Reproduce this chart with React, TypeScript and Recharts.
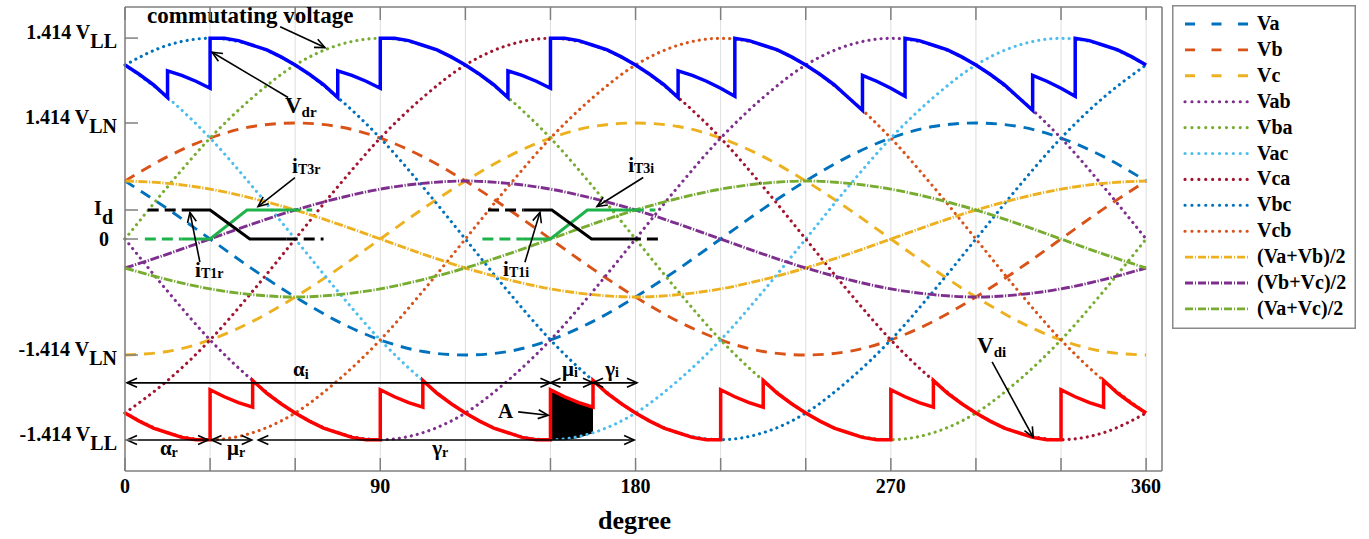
import React from "react";
import {
  Area,
  CartesianGrid,
  ComposedChart,
  Legend,
  Line,
  ReferenceDot,
  ReferenceLine,
  XAxis,
  YAxis,
} from "recharts";

const SERIF = "'Liberation Serif', 'Times New Roman', Times, serif";
const AXIS = "#7f7f7f";

// phase and line voltages, read every 15 degrees (1 = 1.414 VLN)
const deg = [0, 15, 30, 45, 60, 75, 90, 105, 120, 135, 150, 165, 180, 195, 210, 225, 240, 255, 270, 285, 300, 315, 330, 345, 360];
const va = [0.5, 0.26, 0, -0.26, -0.5, -0.71, -0.87, -0.97, -1, -0.97, -0.87, -0.71, -0.5, -0.26, 0, 0.26, 0.5, 0.71, 0.87, 0.97, 1, 0.97, 0.87, 0.71, 0.5];
const vb = [0.5, 0.71, 0.87, 0.97, 1, 0.97, 0.87, 0.71, 0.5, 0.26, 0, -0.26, -0.5, -0.71, -0.87, -0.97, -1, -0.97, -0.87, -0.71, -0.5, -0.26, 0, 0.26, 0.5];
const vc = [-1, -0.97, -0.87, -0.71, -0.5, -0.26, 0, 0.26, 0.5, 0.71, 0.87, 0.97, 1, 0.97, 0.87, 0.71, 0.5, 0.26, 0, -0.26, -0.5, -0.71, -0.87, -0.97, -1];
const vab = [0, -0.45, -0.87, -1.22, -1.5, -1.67, -1.73, -1.67, -1.5, -1.22, -0.87, -0.45, 0, 0.45, 0.87, 1.22, 1.5, 1.67, 1.73, 1.67, 1.5, 1.22, 0.87, 0.45, 0];
const vba = [0, 0.45, 0.87, 1.22, 1.5, 1.67, 1.73, 1.67, 1.5, 1.22, 0.87, 0.45, 0, -0.45, -0.87, -1.22, -1.5, -1.67, -1.73, -1.67, -1.5, -1.22, -0.87, -0.45, 0];
const vac = [1.5, 1.22, 0.87, 0.45, 0, -0.45, -0.87, -1.22, -1.5, -1.67, -1.73, -1.67, -1.5, -1.22, -0.87, -0.45, 0, 0.45, 0.87, 1.22, 1.5, 1.67, 1.73, 1.67, 1.5];
const vca = [-1.5, -1.22, -0.87, -0.45, 0, 0.45, 0.87, 1.22, 1.5, 1.67, 1.73, 1.67, 1.5, 1.22, 0.87, 0.45, 0, -0.45, -0.87, -1.22, -1.5, -1.67, -1.73, -1.67, -1.5];
const vbc = [1.5, 1.67, 1.73, 1.67, 1.5, 1.22, 0.87, 0.45, 0, -0.45, -0.87, -1.22, -1.5, -1.67, -1.73, -1.67, -1.5, -1.22, -0.87, -0.45, 0, 0.45, 0.87, 1.22, 1.5];
const vcb = [-1.5, -1.67, -1.73, -1.67, -1.5, -1.22, -0.87, -0.45, 0, 0.45, 0.87, 1.22, 1.5, 1.67, 1.73, 1.67, 1.5, 1.22, 0.87, 0.45, 0, -0.45, -0.87, -1.22, -1.5];
const vaPlusVb = [0.5, 0.48, 0.43, 0.35, 0.25, 0.13, 0, -0.13, -0.25, -0.35, -0.43, -0.48, -0.5, -0.48, -0.43, -0.35, -0.25, -0.13, 0, 0.13, 0.25, 0.35, 0.43, 0.48, 0.5];
const vbPlusVc = [-0.25, -0.13, 0, 0.13, 0.25, 0.35, 0.43, 0.48, 0.5, 0.48, 0.43, 0.35, 0.25, 0.13, 0, -0.13, -0.25, -0.35, -0.43, -0.48, -0.5, -0.48, -0.43, -0.35, -0.25];
const vaPlusVc = [-0.25, -0.35, -0.43, -0.48, -0.5, -0.48, -0.43, -0.35, -0.25, -0.13, 0, 0.13, 0.25, 0.35, 0.43, 0.48, 0.5, 0.48, 0.43, 0.35, 0.25, 0.13, 0, -0.13, -0.25];

// rectifier / inverter dc voltages, [degree, value] every 5 degrees with the jumps
const vdr = [
  [0, 1.5], [5, 1.42], [10, 1.33], [15, 1.22], [15, 1.45], [20, 1.41], [25, 1.36], [30, 1.3],
  [30, 1.73], [35, 1.73], [40, 1.71], [45, 1.67], [50, 1.63], [55, 1.57], [60, 1.5], [65, 1.42], [70, 1.33], [75, 1.22],
  [75, 1.45], [80, 1.41], [85, 1.36], [90, 1.3],
  [90, 1.73], [95, 1.73], [100, 1.71], [105, 1.67], [110, 1.63], [115, 1.57], [120, 1.5], [125, 1.42], [130, 1.33], [135, 1.22],
  [135, 1.45], [140, 1.41], [145, 1.36], [150, 1.3],
  [150, 1.73], [155, 1.73], [160, 1.71], [165, 1.67], [170, 1.63], [175, 1.57], [180, 1.5], [185, 1.42], [190, 1.33], [195, 1.22],
  [195, 1.45], [200, 1.41], [205, 1.36], [210, 1.3], [215, 1.23],
  [215, 1.73], [220, 1.71], [225, 1.67], [230, 1.63], [235, 1.57], [240, 1.5], [245, 1.42], [250, 1.33], [255, 1.22], [260, 1.11],
  [260, 1.41], [265, 1.36], [270, 1.3], [275, 1.23],
  [275, 1.73], [280, 1.71], [285, 1.67], [290, 1.63], [295, 1.57], [300, 1.5], [305, 1.42], [310, 1.33], [315, 1.22], [320, 1.11],
  [320, 1.41], [325, 1.36], [330, 1.3], [335, 1.23],
  [335, 1.73], [340, 1.71], [345, 1.67], [350, 1.63], [355, 1.57], [360, 1.5],
];
const vdi = [
  [0, -1.5], [5, -1.57], [10, -1.63], [15, -1.67], [20, -1.71], [25, -1.73], [30, -1.73],
  [30, -1.3], [35, -1.36], [40, -1.41], [45, -1.45],
  [45, -1.22], [50, -1.33], [55, -1.42], [60, -1.5], [65, -1.57], [70, -1.63], [75, -1.67], [80, -1.71], [85, -1.73], [90, -1.73],
  [90, -1.3], [95, -1.36], [100, -1.41], [105, -1.45],
  [105, -1.22], [110, -1.33], [115, -1.42], [120, -1.5], [125, -1.57], [130, -1.63], [135, -1.67], [140, -1.71], [145, -1.73], [150, -1.73],
  [150, -1.3], [155, -1.36], [160, -1.41], [165, -1.45],
  [165, -1.22], [170, -1.33], [175, -1.42], [180, -1.5], [185, -1.57], [190, -1.63], [195, -1.67], [200, -1.71], [205, -1.73], [210, -1.73],
  [210, -1.3], [215, -1.36], [220, -1.41], [225, -1.45],
  [225, -1.22], [230, -1.33], [235, -1.42], [240, -1.5], [245, -1.57], [250, -1.63], [255, -1.67], [260, -1.71], [265, -1.73], [270, -1.73],
  [270, -1.3], [275, -1.36], [280, -1.41], [285, -1.45],
  [285, -1.22], [290, -1.33], [295, -1.42], [300, -1.5], [305, -1.57], [310, -1.63], [315, -1.67], [320, -1.71], [325, -1.73], [330, -1.73],
  [330, -1.3], [335, -1.36], [340, -1.41], [345, -1.45],
  [345, -1.22], [350, -1.33], [355, -1.42], [360, -1.5],
];

// shaded area A (inverter commutation)
const areaDeg = [150, 155, 160, 165];
const areaLow = [-1.73, -1.73, -1.71, -1.67];
const areaHigh = [-1.3, -1.36, -1.41, -1.45];

// thyristor currents (Id = 0.25)
const iT1rSolid = [[20, 0.25], [30, 0.25], [44, 0], [57, 0]];
const iT1rDash = [[8, 0.25], [20, 0.25], [38, null], [57, 0], [70, 0]];
const iT3rSolid = [[20, 0], [30, 0], [43, 0.25], [58, 0.25]];
const iT3rDash = [[7, 0], [20, 0], [38, null], [58, 0.25], [66, 0.25]];
const iT1iSolid = [[140.5, 0.25], [150.5, 0.25], [164.5, 0], [178, 0]];
const iT1iDash = [[128, 0.25], [140.5, 0.25], [160, null], [178, 0], [189, 0]];
const iT3iSolid = [[140, 0], [150, 0], [163, 0.25], [179, 0.25]];
const iT3iDash = [[126, 0], [140, 0], [160, null], [179, 0.25], [187, 0.25]];

const xTicks = [0, 30, 60, 90, 120, 150, 180, 210, 240, 270, 300, 330, 360];
const yTicks = [1.732, 1, 0.25, 0, -1, -1.732];
const yTickMain = ["1.414 V", "1.414 V", "I", "0", "-1.414 V", "-1.414 V"];
const yTickSub = ["LL", "LN", "d", "", "LN", "LL"];

const DASHED = { dash: "11 8", legendDash: "10 16.5", cap: "butt", width: 2.9 };
const DOTTED = { dash: "0.1 6", legendDash: "0.1 6.8", cap: "round", width: 3.1 };
const DASHDOT = { dash: "9 1.6 1.2 1.6", legendDash: "8 2 1 2", cap: "butt", width: 2.9 };

const series = [
  { key: "Va", values: va, color: "#0072BD", style: DASHED },
  { key: "Vb", values: vb, color: "#D95319", style: DASHED },
  { key: "Vc", values: vc, color: "#EDB120", style: DASHED },
  { key: "Vab", values: vab, color: "#7E2F8E", style: DOTTED },
  { key: "Vba", values: vba, color: "#77AC30", style: DOTTED },
  { key: "Vac", values: vac, color: "#4DBEEE", style: DOTTED },
  { key: "Vca", values: vca, color: "#A2142F", style: DOTTED },
  { key: "Vbc", values: vbc, color: "#0072BD", style: DOTTED },
  { key: "Vcb", values: vcb, color: "#D95319", style: DOTTED },
  { key: "(Va+Vb)/2", values: vaPlusVb, color: "#EDB120", style: DASHDOT },
  { key: "(Vb+Vc)/2", values: vbPlusVc, color: "#7E2F8E", style: DASHDOT },
  { key: "(Va+Vc)/2", values: vaPlusVc, color: "#77AC30", style: DASHDOT },
];

const rows = deg.map((d, i) => {
  const r: Record<string, number> = { deg: d };
  series.forEach((s) => (r[s.key] = s.values[i]));
  return r;
});
const toRows = (pts: (number | null)[][]) => pts.map(([d, v]) => ({ deg: d, v }));
const areaRows = areaDeg.map((d, i) => ({ deg: d, r: [areaLow[i], areaHigh[i]] }));

type Annot = { x: number; y: number; main: string; sub?: string; size: number; subSize?: number; subDy?: number };
const labels: Annot[] = [
  { x: 7.8, y: 1.86, main: "commutating voltage", size: 23 },
  { x: 56.4, y: 1.09, main: "V", sub: "dr", size: 23, subSize: 15, subDy: 4 },
  { x: 58.9, y: 0.57, main: "i", sub: "T3r", size: 21, subSize: 14, subDy: 1 },
  { x: 24.7, y: -0.33, main: "i", sub: "T1r", size: 21, subSize: 14, subDy: 1 },
  { x: 177.4, y: 0.58, main: "i", sub: "T3i", size: 21, subSize: 14, subDy: 1 },
  { x: 133.3, y: -0.32, main: "i", sub: "T1i", size: 21, subSize: 14, subDy: 1 },
  { x: 300.4, y: -0.98, main: "V", sub: "di", size: 23, subSize: 15, subDy: 4 },
  { x: 131.5, y: -1.54, main: "A", size: 21 },
  { x: 59.2, y: -1.18, main: "α", sub: "i", size: 21, subSize: 14, subDy: 3 },
  { x: 154.1, y: -1.18, main: "μ", sub: "i", size: 21, subSize: 14, subDy: 1 },
  { x: 169.3, y: -1.18, main: "γ", sub: "i", size: 21, subSize: 14, subDy: 1 },
  { x: 12.3, y: -1.86, main: "α", sub: "r", size: 21, subSize: 14, subDy: 2 },
  { x: 36, y: -1.86, main: "μ", sub: "r", size: 21, subSize: 14, subDy: 2 },
  { x: 108.3, y: -1.86, main: "γ", sub: "r", size: 21, subSize: 14, subDy: 2 },
];

const pointers = [
  [[54.7, 1.83], [70.5, 1.65]],
  [[57.5, 1.22], [30.7, 1.61]],
  [[59.9, 0.53], [46.9, 0.28]],
  [[26.4, -0.2], [22.9, 0.23]],
  [[182.7, 0.53], [166.4, 0.28]],
  [[141, -0.2], [146.3, 0.23]],
  [[305.7, -1.06], [320.2, -1.71]],
  [[138.6, -1.49], [149.2, -1.52]],
];
const spans = [
  [0.7, 150, -1.24],
  [150, 165, -1.24],
  [165, 180.5, -1.24],
  [0.7, 29.3, -1.733],
  [30.5, 44.7, -1.733],
  [47, 179.5, -1.733],
];

function head(xa: number, ya: number, xb: number, yb: number) {
  const ang = Math.atan2(yb - ya, xb - xa);
  const L = 11;
  const w = 0.42;
  const p1 = `${xb - L * Math.cos(ang - w)},${yb - L * Math.sin(ang - w)}`;
  const p2 = `${xb - L * Math.cos(ang + w)},${yb - L * Math.sin(ang + w)}`;
  return <polyline points={`${p1} ${xb},${yb} ${p2}`} fill="none" stroke="#000" strokeWidth={1.6} />;
}

function Arrow(props: any) {
  const { x1, y1, x2, y2, both } = props;
  return (
    <g>
      <line x1={x1} y1={y1} x2={x2} y2={y2} stroke="#000" strokeWidth={1.6} />
      {head(x1, y1, x2, y2)}
      {both && head(x2, y2, x1, y1)}
    </g>
  );
}

function AnnotText({ cx, cy, a }: { cx: number; cy: number; a: Annot }) {
  return (
    <text x={cx} y={cy} fontFamily={SERIF} fontWeight="bold" fontSize={a.size} fill="#000">
      {a.main}
      {a.sub && (
        <tspan fontSize={a.subSize} dy={a.subDy}>
          {a.sub}
        </tspan>
      )}
    </text>
  );
}

function LeftTick(props: any) {
  const { x, y, payload } = props;
  const i = yTicks.indexOf(payload.value);
  const main = yTickMain[i];
  const sub = yTickSub[i];
  const isId = main === "I";
  const isZero = main === "0";
  return (
    <g>
      <line x1={x} x2={x + 13} y1={y} y2={y} stroke={AXIS} strokeWidth={1.5} />
      <text
        x={isZero ? x - 16 : isId ? x - 12 : x - 8}
        y={isZero ? y + 7 : isId ? y + 5 : y + 1}
        textAnchor="end"
        fontFamily={SERIF}
        fontWeight="bold"
        fontSize={20}
        fill="#000"
      >
        {main}
        {sub && <tspan dy={9}>{sub}</tspan>}
      </text>
    </g>
  );
}

function BottomTick(props: any) {
  const { x, y, payload } = props;
  const v = payload.value;
  return (
    <g>
      <line x1={x} x2={x} y1={y} y2={y - 13} stroke={AXIS} strokeWidth={1.5} />
      {v % 90 === 0 && (
        <text x={x} y={y + 22} textAnchor="middle" fontFamily={SERIF} fontWeight="bold" fontSize={20} fill="#000">
          {v}
        </text>
      )}
    </g>
  );
}

function TopTick(props: any) {
  const { x, y } = props;
  return <line x1={x} x2={x} y1={y} y2={y + 13} stroke={AXIS} strokeWidth={1.5} />;
}

function DegreeLabel(props: any) {
  const vb = props.viewBox;
  return (
    <text x={vb.x + vb.width / 2 - 9} y={vb.y + 58} textAnchor="middle" fontFamily={SERIF} fontWeight="bold" fontSize={26} fill="#000">
      degree
    </text>
  );
}

function LegendBox() {
  return (
    <svg width={184} height={324} style={{ display: "block" }}>
      <rect x={0.75} y={0.75} width={182.5} height={322.5} fill="#fff" stroke="#8a8a8a" strokeWidth={1.5} />
      {series.map((s, i) => {
        const cy = 19 + i * 25.9;
        return (
          <g key={s.key}>
            <line
              x1={13}
              x2={76}
              y1={cy}
              y2={cy}
              stroke={s.color}
              strokeWidth={s.style.width}
              strokeDasharray={s.style.legendDash}
              strokeLinecap={s.style.cap as any}
            />
            <text x={85} y={cy + 6} fontFamily={SERIF} fontWeight="bold" fontSize={20} fill="#000">
              {s.key}
            </text>
          </g>
        );
      })}
    </svg>
  );
}

export default function App() {
  return (
    <div style={{ position: "absolute", left: 0, top: 0, width: 1369, height: 539, background: "#fff" }}>
      <ComposedChart width={1369} height={539} data={rows} margin={{ top: 6, right: 206, bottom: 0, left: 0 }}>
        <CartesianGrid horizontal={false} stroke="#dedede" strokeWidth={1} />
        <XAxis
          dataKey="deg"
          type="number"
          domain={[0, 365.6]}
          ticks={xTicks}
          interval={0}
          height={68}
          tickSize={0}
          tickMargin={0}
          tickLine={false}
          axisLine={{ stroke: AXIS, strokeWidth: 1.5 }}
          tick={<BottomTick />}
          label={DegreeLabel}
        />
        <XAxis
          xAxisId="top"
          orientation="top"
          dataKey="deg"
          type="number"
          domain={[0, 365.6]}
          ticks={xTicks}
          interval={0}
          height={1}
          tickSize={0}
          tickMargin={0}
          tickLine={false}
          axisLine={{ stroke: AXIS, strokeWidth: 1.5 }}
          tick={<TopTick />}
        />
        <YAxis
          type="number"
          domain={[-2, 2]}
          ticks={yTicks}
          interval={0}
          width={125}
          tickSize={0}
          tickMargin={0}
          tickLine={false}
          axisLine={{ stroke: AXIS, strokeWidth: 1.5 }}
          tick={<LeftTick />}
        />
        <YAxis
          yAxisId="right"
          orientation="right"
          type="number"
          domain={[-2, 2]}
          width={1}
          tick={false}
          tickLine={false}
          axisLine={{ stroke: AXIS, strokeWidth: 1.5 }}
        />
        <Legend
          layout="horizontal"
          verticalAlign="middle"
          align="center"
          width={184}
          height={324}
          wrapperStyle={{ left: 1172, top: 5, width: 184, height: 324 }}
          content={() => <LegendBox />}
        />
        {series.map((s) => (
          <Line
            key={s.key}
            dataKey={s.key}
            type="monotone"
            stroke={s.color}
            strokeWidth={s.style.width}
            strokeDasharray={s.style.dash}
            strokeLinecap={s.style.cap as any}
            dot={false}
            activeDot={false}
            legendType="none"
            isAnimationActive={false}
          />
        ))}
        <Area
          data={areaRows}
          dataKey="r"
          type="linear"
          stroke="#000"
          strokeWidth={1}
          fill="#000"
          fillOpacity={1}
          dot={false}
          activeDot={false}
          legendType="none"
          isAnimationActive={false}
        />
        <Line data={toRows(vdr)} dataKey="v" type="linear" stroke="#0000FF" strokeWidth={3.5} dot={false} activeDot={false} legendType="none" isAnimationActive={false} />
        <Line data={toRows(vdi)} dataKey="v" type="linear" stroke="#FF0000" strokeWidth={3.5} dot={false} activeDot={false} legendType="none" isAnimationActive={false} />
        {[iT3rDash, iT3iDash].map((d, i) => (
          <Line key={`gd${i}`} data={toRows(d)} dataKey="v" type="linear" stroke="#1fb24a" strokeWidth={3} strokeDasharray="11 6" dot={false} activeDot={false} legendType="none" isAnimationActive={false} />
        ))}
        {[iT3rSolid, iT3iSolid].map((d, i) => (
          <Line key={`gs${i}`} data={toRows(d)} dataKey="v" type="linear" stroke="#1fb24a" strokeWidth={3} dot={false} activeDot={false} legendType="none" isAnimationActive={false} />
        ))}
        {[iT1rDash, iT1iDash].map((d, i) => (
          <Line key={`kd${i}`} data={toRows(d)} dataKey="v" type="linear" stroke="#000" strokeWidth={3} strokeDasharray="11 6" dot={false} activeDot={false} legendType="none" isAnimationActive={false} />
        ))}
        {[iT1rSolid, iT1iSolid].map((d, i) => (
          <Line key={`ks${i}`} data={toRows(d)} dataKey="v" type="linear" stroke="#000" strokeWidth={3} dot={false} activeDot={false} legendType="none" isAnimationActive={false} />
        ))}
        {pointers.map(([a, b], i) => (
          <ReferenceLine
            key={`p${i}`}
            segment={[{ x: a[0], y: a[1] }, { x: b[0], y: b[1] }]}
            ifOverflow="visible"
            shape={(p: any) => <Arrow {...p} />}
          />
        ))}
        {spans.map(([x1, x2, y], i) => (
          <ReferenceLine
            key={`s${i}`}
            segment={[{ x: x1, y }, { x: x2, y }]}
            ifOverflow="visible"
            shape={(p: any) => <Arrow {...p} both />}
          />
        ))}
        {labels.map((a, i) => (
          <ReferenceDot
            key={`l${i}`}
            x={a.x}
            y={a.y}
            r={0}
            ifOverflow="visible"
            shape={(p: any) => <AnnotText cx={p.cx} cy={p.cy} a={a} />}
          />
        ))}
      </ComposedChart>
    </div>
  );
}
